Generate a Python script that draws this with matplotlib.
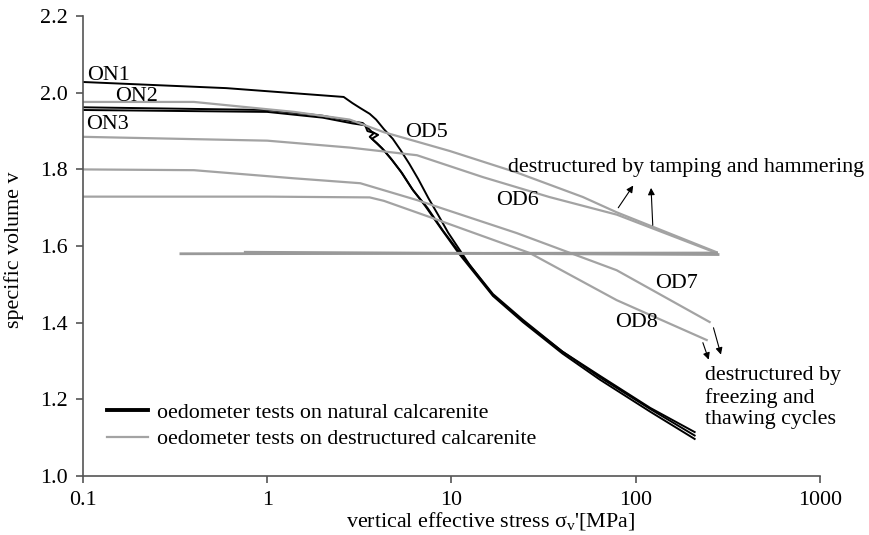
import numpy as np
import matplotlib.pyplot as plt

plt.rcParams['font.family'] = ['Liberation Serif', 'DejaVu Serif']
plt.rcParams['mathtext.fontset'] = 'custom'
plt.rcParams['mathtext.rm'] = 'Liberation Serif'
plt.rcParams['mathtext.it'] = 'Liberation Serif:italic'

# oedometer tests on natural calcarenite (black)
on1_s = [0.1, 0.6, 2.6, 2.9, 3.2, 3.6, 3.9, 4.3, 4.8, 5.3, 5.9, 6.6, 7.5, 8.5, 9.6, 12.6, 16.8, 24.4, 40, 63.8, 120, 209]
on1_v = [2.028, 2.012, 1.989, 1.973, 1.960, 1.945, 1.930, 1.905, 1.880, 1.850, 1.815, 1.775, 1.725, 1.680, 1.635, 1.550, 1.472, 1.405, 1.325, 1.262, 1.178, 1.115]
on2_s = [0.1, 1.0, 2.0, 2.9, 3.3, 3.7, 4.0, 3.7, 3.95, 4.3, 4.8, 5.4, 6.2, 7.4, 9.0, 11, 16.8, 24.4, 40, 63.8, 120, 209]
on2_v = [1.962, 1.955, 1.940, 1.925, 1.921, 1.898, 1.890, 1.880, 1.868, 1.850, 1.822, 1.790, 1.745, 1.700, 1.640, 1.585, 1.475, 1.408, 1.325, 1.258, 1.175, 1.106]
on3_s = [0.1, 1.0, 2.0, 2.9, 3.4, 3.5, 3.8, 3.6, 3.85, 4.2, 4.7, 5.3, 6.1, 7.2, 8.8, 11, 16.8, 24.4, 40, 63.8, 120, 209]
on3_v = [1.955, 1.950, 1.935, 1.920, 1.915, 1.900, 1.895, 1.885, 1.872, 1.855, 1.828, 1.795, 1.750, 1.705, 1.645, 1.580, 1.470, 1.402, 1.320, 1.252, 1.168, 1.097]

# oedometer tests on destructured calcarenite (grey)
od5_s = [0.1, 0.4, 1.4, 2.8, 4.3, 9.8, 22.6, 51.7, 79, 275]
od5_v = [1.976, 1.976, 1.950, 1.930, 1.897, 1.848, 1.792, 1.728, 1.688, 1.584]
od6_s = [0.1, 1.0, 2.8, 6.5, 14.8, 34, 79, 275]
od6_v = [1.885, 1.875, 1.857, 1.837, 1.780, 1.728, 1.682, 1.582]
od7_s = [0.1, 0.4, 1.38, 3.2, 6.5, 22.6, 78.9, 252]
od7_v = [1.800, 1.798, 1.777, 1.764, 1.720, 1.634, 1.537, 1.402]
od8_s = [0.1, 1.0, 3.6, 4.3, 7.6, 26.6, 78.9, 243]
od8_v = [1.729, 1.729, 1.727, 1.718, 1.676, 1.582, 1.459, 1.355]
# unloading of OD5 / OD6
un5_s = [275, 0.34]
un5_v = [1.582, 1.580]
un6_s = [280, 0.76]
un6_v = [1.578, 1.584]

xticks = [0.1, 1, 10, 100, 1000]
xticklabels = ['0.1', '1', '10', '100', '1000']
yticks = [1.0, 1.2, 1.4, 1.6, 1.8, 2.0, 2.2]

black = '#000000'
grey = '#a3a3a3'

fig = plt.figure(figsize=(8.69, 5.35), dpi=100)
ax = fig.add_axes([0.0955, 0.110, 0.848, 0.860])

ax.plot(on1_s, on1_v, color=black, lw=1.4, label='oedometer tests on natural calcarenite')
ax.plot(on2_s, on2_v, color=black, lw=1.4)
ax.plot(on3_s, on3_v, color=black, lw=1.4)

ax.plot(od5_s, od5_v, color=grey, lw=1.6, label='oedometer tests on destructured calcarenite')
ax.plot(od6_s, od6_v, color=grey, lw=1.6)
ax.plot(od7_s, od7_v, color=grey, lw=1.6)
ax.plot(od8_s, od8_v, color=grey, lw=1.6)
ax.plot(un5_s, un5_v, color='#999999', lw=2)
ax.plot(un6_s, un6_v, color='#999999', lw=2)

ax.set_xscale('log')
ax.set_xlim(0.1, 1000)
ax.set_ylim(1.0, 2.2)
ax.set_xticks(xticks)
ax.set_xticklabels(xticklabels)
ax.minorticks_off()
ax.set_yticks(yticks)
ax.set_yticklabels(['%.1f' % t for t in yticks])

for s in ['top', 'right']:
    ax.spines[s].set_visible(False)
for s in ['left', 'bottom']:
    ax.spines[s].set_color('#555555')
    ax.spines[s].set_linewidth(1.2)
fs = 15.8
ax.tick_params(direction='out', length=5, width=1.2, color='#555555', labelsize=fs)
ax.tick_params(axis='y', pad=6)
ax.tick_params(axis='x', pad=6)

ax.text(0.105, 2.046, 'ON1', fontsize=fs, va='center')
ax.text(0.149, 1.989, 'ON2', fontsize=fs, va='center')
ax.text(0.104, 1.918, 'ON3', fontsize=fs, va='center')
ax.text(5.58, 1.897, 'OD5', fontsize=fs, va='center')
ax.text(17.4, 1.720, 'OD6', fontsize=fs, va='center')
ax.text(127, 1.503, 'OD7', fontsize=fs, va='center')
ax.text(77, 1.402, 'OD8', fontsize=fs, va='center')

ax.text(20.2, 1.806, 'destructured by tamping and hammering', fontsize=fs, va='center')
ax.annotate('', xy=(98.9, 1.764), xytext=(78.9, 1.694),
            arrowprops=dict(arrowstyle='-|>', color='black', lw=0.8, mutation_scale=10))
ax.annotate('', xy=(121, 1.759), xytext=(124, 1.647),
            arrowprops=dict(arrowstyle='-|>', color='black', lw=0.8, mutation_scale=10))

ax.text(237, 1.288, 'destructured by\nfreezing and\nthawing cycles', fontsize=fs, va='top',
        linespacing=1.2)
ax.annotate('', xy=(293, 1.310), xytext=(262, 1.394),
            arrowprops=dict(arrowstyle='-|>', color='black', lw=0.8, mutation_scale=10))
ax.annotate('', xy=(252, 1.297), xytext=(229, 1.355),
            arrowprops=dict(arrowstyle='-|>', color='black', lw=0.8, mutation_scale=10))

leg = ax.legend(loc='lower left', bbox_to_anchor=(0.033, 0.058), frameon=False, fontsize=fs,
                handlelength=1.86, handletextpad=0.4, labelspacing=0.3, borderpad=0,
                borderaxespad=0)
leg.get_lines()[0].set_linewidth(2.8)

fig.text(0.016, 0.533, 'specific volume v', rotation=90, fontsize=fs, ha='center', va='center')
fig.text(0.565, 0.005, "vertical effective stress $\\mathrm{\\sigma_v}$'[MPa]", fontsize=fs,
         ha='center', va='bottom')

fig.savefig('out.png', dpi=100)
